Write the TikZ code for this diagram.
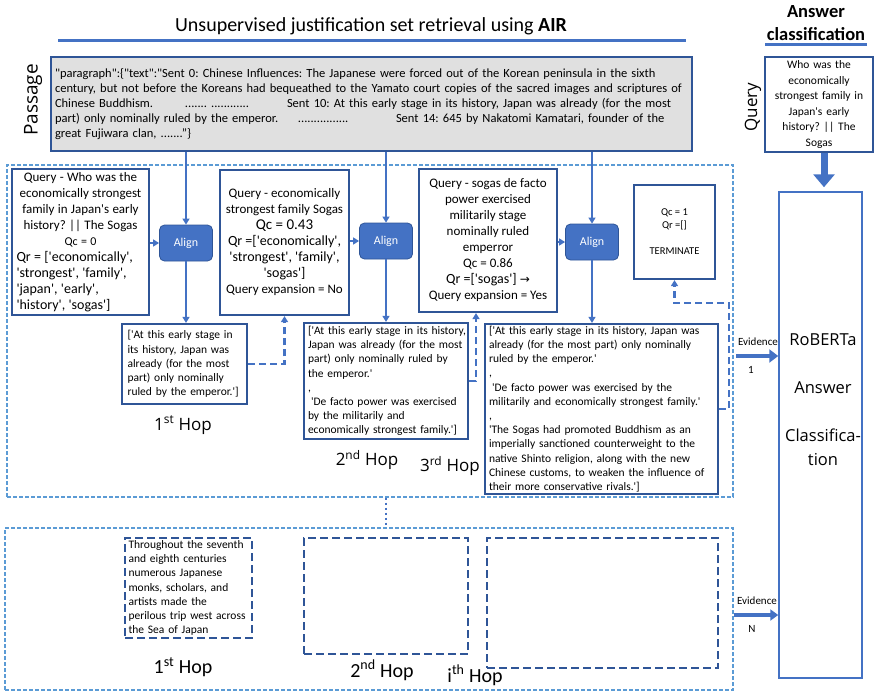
\documentclass[tikz,border=0pt]{standalone}
\usepackage{fontspec}
\setmainfont{Carlito}[Ligatures=TeXOff]
\newfontfamily\segoe{Open Sans}
\newfontfamily\arrowsym{DejaVu Sans}
\usetikzlibrary{positioning,arrows.meta,calc}
\frenchspacing

\definecolor{boxblue}{RGB}{47,85,151}
\definecolor{arrowblue}{RGB}{68,114,196}
\definecolor{lightblue}{RGB}{91,155,213}
\definecolor{passfill}{RGB}{224,224,224}

\newcommand\qfont{\fontsize{13}{16}\selectfont}
\newcommand\qrfont{\fontsize{14}{16}\selectfont}
\newcommand\efont{\fontsize{11.5}{14.2}\selectfont}
\newcommand\pfont{\fontsize{12.5}{15}\selectfont}

\begin{document}
\begin{tikzpicture}[x=1pt,y=-1pt,>={Triangle[width=7pt,length=6pt]},
	qbox/.style={draw=boxblue,line width=2.2pt,inner sep=0pt,align=center},
	ebox/.style={draw=boxblue,line width=2.2pt,inner sep=0pt,align=left,font=\efont},
	dbox/.style={draw=boxblue,line width=2.2pt,dash pattern=on 8pt off 4pt,inner sep=0pt,align=left,font=\efont},
	alignbox/.style={fill=arrowblue,draw=boxblue,line width=0.8pt,rounded corners=5pt,
		minimum width=53pt,minimum height=36pt,text=white,font=\fontsize{12}{14}\selectfont},
	hopbox/.style={draw=lightblue,line width=1.1pt,dash pattern=on 4pt off 2pt,inner sep=0pt},
	hoptop/.style={font=\segoe\fontsize{17}{19}\selectfont},
	hopbot/.style={font=\fontsize{20}{22}\selectfont},
	arr/.style={->,draw=arrowblue,line width=1.3pt},
	dasharr/.style={->,draw=arrowblue,line width=2.2pt,dash pattern=on 7pt off 4pt},
	fatarr/.style={-{Triangle[width=13pt,length=9pt]},draw=arrowblue,line width=4.5pt},
	evlab/.style={font=\fontsize{11}{13}\selectfont,inner sep=0pt}]
\useasboundingbox (0,0) rectangle (877,693);

% headings
\node[font=\fontsize{20}{22}\selectfont] (title) at (371,26)
	{Unsupervised justification set retrieval using \textbf{AIR}};
\draw[arrowblue,line width=3pt] (58,41) -- (686,41);
\node[font=\bfseries\fontsize{18.5}{23}\selectfont,align=center] (anscls) at (816,23)
	{Answer\\classification};
\draw[arrowblue,line width=3pt] (765,45) -- (867,45);

% passage
\node[draw=boxblue,line width=2.2pt,fill=passfill,inner sep=0pt,
	  minimum width=641pt,minimum height=94pt,text width=633pt,align=left,font=\pfont]
	  (pass) at (371.5,104)
	{"paragraph":\{"text":"Sent 0: Chinese Influences: The Japanese were forced out of the Korean peninsula in the sixth\\
	 century, but not before the Koreans had bequeathed to the Yamato court copies of the sacred images and scriptures of\\
	 \makebox[130pt][l]{Chinese Buddhism.}\makebox[102pt][l]{....... ............}Sent 10: At this early stage in its history, Japan was already (for the most\\
	 \makebox[243pt][l]{part) only nominally ruled by the emperor.}\makebox[98pt][l]{................}Sent 14: 645 by Nakatomi Kamatari, founder of the\\
	 great Fujiwara clan, .......”\}};
\node[rotate=90,font=\segoe\fontsize{19}{21}\selectfont] (passlab) at (33,100) {Passage};

% query for classification
\node[qbox,minimum width=108pt,minimum height=95pt,text width=104pt,font=\fontsize{11.5}{15.5}\selectfont]
	  (qr) at (819,104.5)
	{Who was the\\economically\\strongest family in\\Japan's early\\history? || The\\Sogas};
\node[rotate=90,font=\segoe\fontsize{17}{19}\selectfont] (qrlab) at (753,107) {Query};

% hop areas
\node[hopbox,minimum width=726pt,minimum height=332pt] (area1) at (370,331) {};
\node[hopbox,minimum width=728pt,minimum height=162pt] (area2) at (369,609) {};

% queries of the hops
\node[qbox,minimum width=137pt,minimum height=146pt,text width=128pt,align=left]
	  (q1) at (80.5,242)
	{{\centering\qfont Query - Who was the\\economically strongest\\family in Japan's early\\history? || The Sogas\\
	 {\fontsize{12}{16}\selectfont Qc = 0}\par}
	 {\raggedright\qrfont Qr = ['economically',\\'strongest', 'family',\\'japan', 'early',\\'history', 'sogas']\par}};
\node[qbox,minimum width=129pt,minimum height=145pt,font=\qfont] (q2) at (284.5,242.5)
	{Query - economically\\strongest family Sogas\\{\fontsize{15}{16}\selectfont Qc = 0.43}\\{\qrfont Qr =['economically',}\\
	 {\qrfont 'strongest', 'family',}\\{\qrfont 'sogas']}\\Query expansion = No};
\node[qbox,minimum width=138pt,minimum height=143pt,font=\qfont] (q3) at (488,240.5)
	{Query - sogas de facto\\power exercised\\militarily stage\\nominally ruled\\emperror\\Qc = 0.86\\
	 {\qrfont Qr =['sogas'] {\arrowsym\fontsize{12}{16}\selectfont →}}\\Query expansion = Yes};
\node[qbox,minimum width=81pt,minimum height=94pt,font=\fontsize{10.5}{13}\selectfont] (term) at (674.5,232)
	{Qc = 1\\Qr =[]\\\mbox{}\\TERMINATE};

% align steps
\node[alignbox] (al1) at (186,243) {Align};
\node[alignbox] (al2) at (386,241) {Align};
\node[alignbox] (al3) at (592,242) {Align};

% evidence of the hops
\node[ebox,minimum width=125pt,minimum height=80pt,text width=114pt] (ev1) at (184.5,364)
	{['At this early stage in\\its history, Japan was\\already (for the most\\part) only nominally\\ruled by the emperor.']};
\node[ebox,minimum width=164pt,minimum height=116pt,text width=156pt] (ev2) at (386,381)
	{\mbox{['At this early stage in its history,}\\Japan was already (for the most\\part) only nominally ruled by\\the emperor.'\\,\\
	 \hspace*{3pt}'De facto power was exercised\\by the militarily and\\economically strongest family.']};
\node[ebox,minimum width=233pt,minimum height=170pt,text width=225pt] (ev3) at (601.5,409)
	{['At this early stage in its history, Japan was\\already (for the most part) only nominally\\ruled by the emperor.'\\,\\
	 \hspace*{3pt}'De facto power was exercised by the\\militarily and economically strongest family.'\\,\\
	 'The Sogas had promoted Buddhism as an\\imperially sanctioned counterweight to the\\native Shinto religion, along with the new\\
	 Chinese customs, to weaken the influence of\\their more conservative rivals.']};

\node[hoptop] (hop1) at (183,425) {1\textsuperscript{st} Hop};
\node[hoptop] (hop2) at (367,460) {2\textsuperscript{nd} Hop};
\node[hoptop] (hop3) at (450,466) {3\textsuperscript{rd} Hop};

% later hops
\node[dbox,minimum width=127pt,minimum height=100pt,text width=120pt] (b1) at (188.5,588)
	{Throughout the seventh\\and eighth centuries\\numerous Japanese\\monks, scholars, and\\artists made the\\perilous trip west across\\the Sea of Japan};
\node[dbox,minimum width=164pt,minimum height=116pt] (b2) at (386,596) {};
\node[dbox,minimum width=231pt,minimum height=130pt] (bi) at (602.5,603) {};
\node[hopbot] (hopb1) at (183,667) {1\textsuperscript{st} Hop};
\node[hopbot] (hopb2) at (382,670) {2\textsuperscript{nd} Hop};
\node[hopbot] (hopbi) at (475,675) {i\textsuperscript{th} Hop};

% answer classifier
\node[draw=arrowblue,line width=1.5pt,minimum width=83pt,minimum height=486pt] (rob) at (820.5,435) {};
\node[font=\segoe\fontsize{16.5}{24}\selectfont,align=center] (robtext) at (823,400)
	{RoBERTa\\\mbox{}\\Answer\\\mbox{}\\Classifica-\\tion};

% connectors
\draw[arr] (pass.south -| al1) -- (al1.north);
\draw[arr] (pass.south -| al2) -- (al2.north);
\draw[arr] (pass.south -| al3) -- (al3.north);
\draw[arr] (q1.east |- al1) -- (al1.west);
\draw[arr] (q2.east |- al2) -- (al2.west);
\draw[arr] (q3.east |- al3) -- (al3.west);
\draw[arr] (al1.south) -- (al1.south |- ev1.north);
\draw[arr] (al2.south) -- (al2.south |- ev2.north);
\draw[arr] (al3.south) -- (al3.south |- ev3.north);

\draw[dasharr] (ev1.east) -| (q2.south);
\draw[dasharr] (ev2.east) -| ([xshift=-12pt]q3.south);
\draw[dasharr] (ev3.east) -- ++(10,0) |- ($(term.south)+(0,23)$) -- (term.south);

\draw[arrowblue,line width=2.5pt,dash pattern=on 2.5pt off 2.5pt] (area1.south -| al2) -- (area2.north -| al2);

\coordinate (e1) at (736,356);
\coordinate (en) at (734,615);
\draw[fatarr] (e1) -- (e1 -| rob.west);
\draw[fatarr,line width=4pt,-{Triangle[width=11pt,length=8pt]}] (en) -- (en -| rob.west);
\node[evlab] (ev1lab) at (758,342) {Evidence};
\node[evlab] (ev1num) at (751,370) {1};
\node[evlab] (evnlab) at (757,601) {Evidence};
\node[evlab] (evnnum) at (752,629) {N};

\draw[fatarr,line width=7pt,-{Triangle[width=21pt,length=13pt]},shorten >=4pt]
	([xshift=5pt]qr.south) -- ([xshift=5pt]qr.south |- rob.north);
\end{tikzpicture}
\end{document}
